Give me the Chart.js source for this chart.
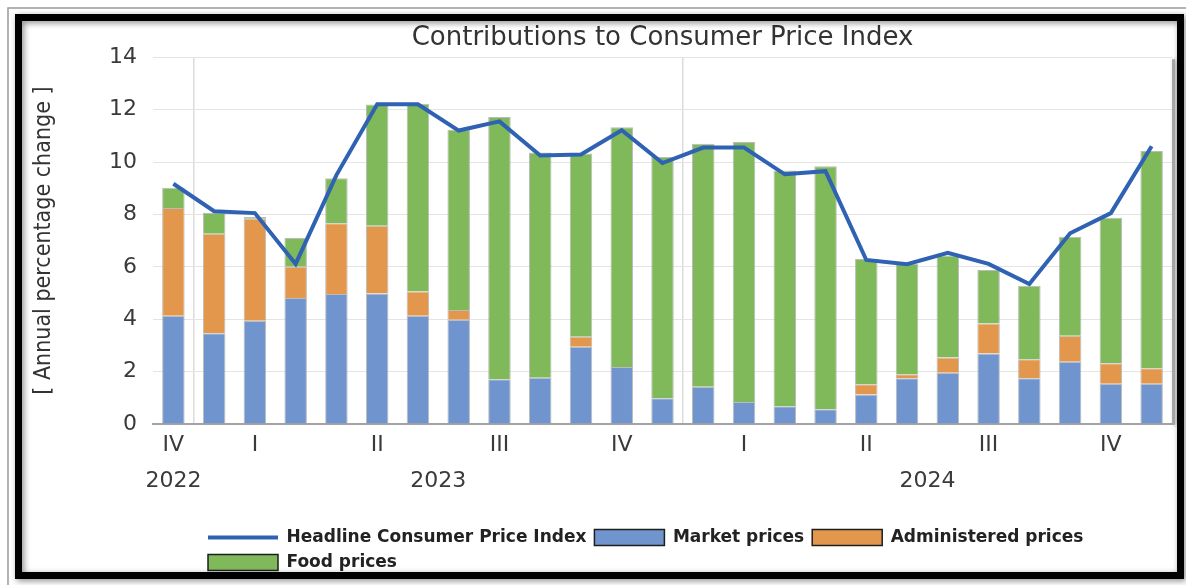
<!DOCTYPE html>
<html>
<head>
<meta charset="utf-8">
<script src="https://cdn.jsdelivr.net/npm/chart.js@4.4.1/dist/chart.umd.min.js"></script>
<style>
html,body{margin:0;padding:0;background:#fff;}
#wrap{width:1186px;height:585px;position:relative;}
</style>
</head>
<body>
<div id="wrap"><canvas id="c"></canvas></div>
<script>
// ---- data ----
const months = ['Dec 2022','Jan 2023','Feb 2023','Mar 2023','Apr 2023','May 2023','Jun 2023','Jul 2023','Aug 2023','Sep 2023','Oct 2023','Nov 2023','Dec 2023',
                'Jan 2024','Feb 2024','Mar 2024','Apr 2024','May 2024','Jun 2024','Jul 2024','Aug 2024','Sep 2024','Oct 2024','Nov 2024','Dec 2024'];
const quarterTicks = ['IV','','I','','','II','','','III','','','IV','','','I','','','II','','','III','','','IV',''];
const yearTicks = ['2022','2023','2024'];
const headline = [9.17, 8.12, 8.05, 6.11, 9.50, 12.20, 12.20, 11.20, 11.55, 10.25, 10.29, 11.21, 9.96, 10.55, 10.55, 9.53, 9.65, 6.26, 6.10, 6.53, 6.11, 5.34, 7.28, 8.05, 10.60];
const market = [4.13, 3.46, 3.94, 4.81, 4.96, 4.98, 4.13, 3.98, 1.71, 1.77, 2.95, 2.18, 0.98, 1.42, 0.84, 0.68, 0.56, 1.13, 1.75, 1.96, 2.69, 1.75, 2.38, 1.54, 1.54];
const administered = [4.11, 3.80, 3.89, 1.19, 2.70, 2.59, 0.93, 0.37, 0, 0, 0.38, 0, 0, 0, 0, 0, 0, 0.39, 0.15, 0.58, 1.15, 0.72, 0.99, 0.78, 0.59];
const food = [0.78, 0.79, 0.07, 1.10, 1.72, 4.62, 7.16, 6.88, 10.01, 8.59, 6.99, 9.15, 9.21, 9.28, 9.92, 9.00, 9.28, 4.78, 4.21, 3.89, 2.04, 2.81, 3.78, 5.55, 8.29];
const yTicks = [0, 2, 4, 6, 8, 10, 12, 14];

// year label positions = centre of each year's months (in category units)
const yearCenters = yearTicks.map(y => {
  const idx = months.map((m, i) => m.endsWith(y) ? i : -1).filter(i => i >= 0);
  return idx.reduce((a, b) => a + b, 0) / idx.length;
});
// year boundaries (grid line before first month of a new year)
const yearStarts = months.map((m, i) => (i > 0 && m.startsWith('Jan')) ? i : -1).filter(i => i >= 0);

const TXT = '#3a3a3a';
const tickFont = {family: "'DejaVu Sans', sans-serif", size: 22};

const framePlugin = {
  id: 'frame',
  beforeDraw(chart) {
    const ctx = chart.ctx;
    ctx.save();
    ctx.fillStyle = '#fff';
    ctx.fillRect(0, 0, chart.width, chart.height);
    ctx.restore();
  },
  afterDraw(chart) {
    const ctx = chart.ctx;
    const a = chart.chartArea;
    ctx.save();
    ctx.shadowColor = 'rgba(0,0,0,0.35)';
    ctx.shadowBlur = 4;
    ctx.shadowOffsetX = 2;
    ctx.strokeStyle = '#a9a9a9';
    ctx.lineWidth = 3;
    ctx.beginPath();
    ctx.moveTo(a.right + 1.5, a.top + 2);
    ctx.lineTo(a.right + 1.5, a.bottom + 1);
    ctx.stroke();
    ctx.restore();
    ctx.save();
    ctx.strokeStyle = '#9a9a9a';
    ctx.lineWidth = 1.5;
    ctx.beginPath();
    ctx.moveTo(8, 585); ctx.lineTo(8, 8); ctx.lineTo(1186, 8);
    ctx.stroke();
    ctx.shadowColor = 'rgba(0,0,0,0.45)';
    ctx.shadowBlur = 6;
    ctx.shadowOffsetX = 2;
    ctx.shadowOffsetY = 2;
    ctx.strokeStyle = '#000';
    ctx.lineWidth = 7;
    ctx.strokeRect(18.5, 17.5, 1162, 558);
    ctx.restore();
  }
};

const legendShift = {
  id: 'legendShift',
  afterLayout(chart) {
    const lg = chart.legend;
    if (!lg) return;
    const target = chart.chartArea.left + 55;
    const dx = target - (lg.left + lg.options.labels.padding);
    lg.left += dx; lg.right += dx;
  }
};

new Chart(document.getElementById('c'), {
  data: {
    labels: months,
    datasets: [
      {type: 'line', label: 'Headline Consumer Price Index', data: headline, borderColor: '#2F62B3', backgroundColor: '#2F62B3',
       borderWidth: 4, pointRadius: 0, tension: 0, order: 0},
      {type: 'bar', label: 'Market prices', data: market, backgroundColor: '#7094CD', order: 1,
       borderColor: 'rgba(170,170,170,0.8)', borderWidth: c => c.raw ? 1 : 0, categoryPercentage: 0.8, barPercentage: 0.69},
      {type: 'bar', label: 'Administered prices', data: administered, backgroundColor: '#E3974C', order: 1,
       borderColor: 'rgba(170,170,170,0.8)', borderWidth: c => c.raw ? 1 : 0, categoryPercentage: 0.8, barPercentage: 0.69},
      {type: 'bar', label: 'Food prices', data: food, backgroundColor: '#80B95A', order: 1,
       borderColor: 'rgba(170,170,170,0.8)', borderWidth: c => c.raw ? 1 : 0, categoryPercentage: 0.8, barPercentage: 0.69}
    ]
  },
  options: {
    responsive: true,
    maintainAspectRatio: false,
    animation: false,
    layout: {padding: {top: 20, left: 22, right: 14, bottom: 4}},
    plugins: {
      tooltip: {enabled: false},
      title: {
        display: true,
        fullSize: false,
        text: 'Contributions to Consumer Price Index',
        color: '#333',
        font: {family: "'DejaVu Sans', sans-serif", size: 26, weight: 'normal'},
        padding: {top: 3, bottom: 3}
      },
      legend: {
        position: 'bottom',
        align: 'start',
        fullSize: false,
        labels: {
          usePointStyle: true,
          pointStyleWidth: 70,
          boxHeight: 16,
          padding: 8,
          color: '#222',
          font: {family: "'DejaVu Sans', sans-serif", size: 17, weight: 'bold'},
          generateLabels(chart) {
            const items = Chart.defaults.plugins.legend.labels.generateLabels(chart);
            items.forEach(it => {
              const ds = chart.data.datasets[it.datasetIndex];
              if (ds.type === 'line') {
                it.pointStyle = 'line'; it.strokeStyle = ds.borderColor; it.lineWidth = 4;
              } else {
                it.pointStyle = 'rect'; it.fillStyle = ds.backgroundColor; it.strokeStyle = '#1e1e1e'; it.lineWidth = 1.5;
              }
            });
            return items;
          }
        }
      }
    },
    scales: {
      x: {
        type: 'category',
        stacked: true,
        weight: 0,
        grid: {
          display: true,
          drawTicks: false,
          offset: true,
          color: c => yearStarts.includes(c.index) ? '#dcdcdc' : 'rgba(0,0,0,0)',
          lineWidth: 1.5
        },
        border: {display: true, color: '#a3a3a3', width: 2},
        ticks: {
          autoSkip: false, maxRotation: 0, padding: 8, color: TXT, font: tickFont,
          callback: (v, i) => quarterTicks[i]
        },
        afterFit: s => { s.height = 40; }
      },
      x2: {
        type: 'linear',
        position: 'bottom',
        weight: 1,
        min: -0.5,
        max: months.length - 0.5,
        offset: false,
        grid: {display: false, drawTicks: false},
        border: {display: false},
        afterBuildTicks: s => { s.ticks = yearCenters.map(v => ({value: v})); },
        ticks: {
          autoSkip: false, maxRotation: 0, padding: 4, color: TXT, font: tickFont,
          callback: (v, i) => yearTicks[i]
        },
        afterFit: s => { s.height = 57; }
      },
      y: {
        stacked: true,
        min: 0, max: 14,
        afterBuildTicks: s => { s.ticks = yTicks.map(v => ({value: v})); },
        grid: {color: '#e4e4e4', lineWidth: 1, drawTicks: false},
        border: {display: false},
        ticks: {padding: 16, color: TXT, font: tickFont},
        title: {
          display: true,
          text: '[ Annual percentage change ]',
          color: '#333',
          font: {family: "'DejaVu Sans Condensed', 'Liberation Sans Narrow', 'DejaVu Sans', sans-serif", size: 23},
          padding: {top: 8, bottom: 0}
        },
        afterFit: s => { s.width = 131; }
      }
    }
  },
  plugins: [framePlugin, legendShift]
});
</script>
</body>
</html>
